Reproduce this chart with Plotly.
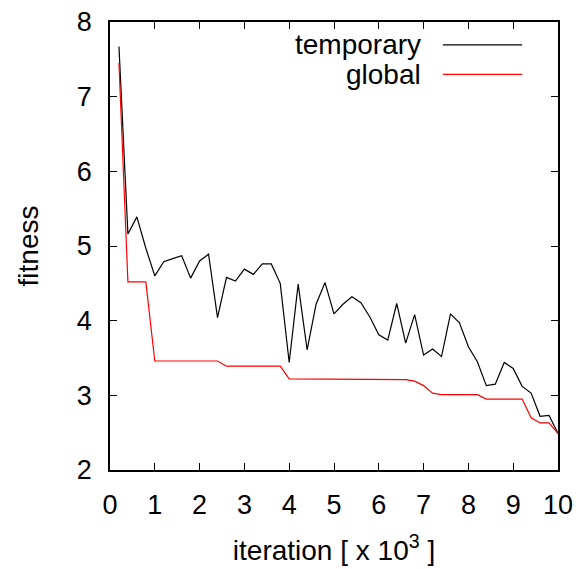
import plotly.graph_objects as go

iteration = [round(0.2 * k, 1) for k in range(1, 51)]
temporary = [7.67, 5.16, 5.39, 4.97, 4.60, 4.79, 4.83, 4.87, 4.57, 4.80,
             4.89, 4.04, 4.58, 4.53, 4.69, 4.62, 4.76, 4.76, 4.50, 3.44,
             4.49, 3.61, 4.22, 4.51, 4.09, 4.22, 4.32, 4.24, 4.05, 3.81,
             3.74, 4.23, 3.70, 4.08, 3.54, 3.62, 3.52, 4.09, 3.97, 3.65,
             3.45, 3.13, 3.15, 3.44, 3.36, 3.12, 3.03, 2.72, 2.73, 2.49]
global_best = [7.45, 4.52, 4.52, 4.52, 3.46, 3.46, 3.46, 3.46, 3.46, 3.46,
               3.46, 3.46, 3.39, 3.39, 3.39, 3.39, 3.39, 3.39, 3.39, 3.22,
               3.22, 3.22, 3.22, 3.22, 3.22, 3.22, 3.22, 3.22, 3.22, 3.22,
               3.22, 3.22, 3.21, 3.19, 3.13, 3.03, 3.01, 3.01, 3.01, 3.01,
               3.01, 2.95, 2.95, 2.95, 2.95, 2.95, 2.70, 2.63, 2.63, 2.49]
x_ticks = list(range(0, 11))
y_ticks = list(range(2, 9))

FONT = "Liberation Sans, Arial, sans-serif"
FS_TICK = 27
FS_TEXT = 28

fig = go.Figure()
fig.add_trace(go.Scatter(x=iteration, y=temporary, mode="lines", name="temporary",
                         line=dict(color="black", width=1.2)))
fig.add_trace(go.Scatter(x=iteration, y=global_best, mode="lines", name="global",
                         line=dict(color="red", width=1.2)))

axis_common = dict(showline=True, linecolor="black", linewidth=1.5, mirror="allticks",
                   ticks="inside", ticklen=7, tickcolor="black", tickwidth=1,
                   showgrid=False, zeroline=False, automargin=False,
                   ticklabeloverflow="allow",
                   tickfont=dict(family=FONT, size=FS_TICK, color="black"))

# page body has an 8px default margin, so the figure is sized/offset for it
fig.update_layout(
    width=576, height=561,
    margin=dict(l=102, r=26, t=14, b=99),
    paper_bgcolor="white", plot_bgcolor="white",
    showlegend=False,
    xaxis=dict(range=[0, 10], tickvals=x_ticks, ticklabelstandoff=10,
               title=dict(text="iteration [ x 10<sup>3</sup> ]", standoff=21,
                          font=dict(family=FONT, size=FS_TEXT, color="black")),
               **axis_common),
    yaxis=dict(range=[2, 8], tickvals=y_ticks, ticklabelstandoff=11,
               title=dict(text="fitness", standoff=30,
                          font=dict(family=FONT, size=FS_TEXT, color="black")),
               **axis_common),
)

# manual gnuplot-style legend (text left of the sample line)
legend_items = [("temporary", "black", 0.949), ("global", "red", 0.883)]
for label, color, yp in legend_items:
    fig.add_annotation(xref="paper", yref="paper", x=0.699, y=yp, text=label,
                       showarrow=False, xanchor="right", yanchor="middle",
                       font=dict(family=FONT, size=FS_TEXT, color="black"))
    fig.add_shape(type="line", xref="paper", yref="paper", x0=0.743, x1=0.920,
                  y0=yp, y1=yp, line=dict(color=color, width=1.2))

fig.write_html("out.html")
